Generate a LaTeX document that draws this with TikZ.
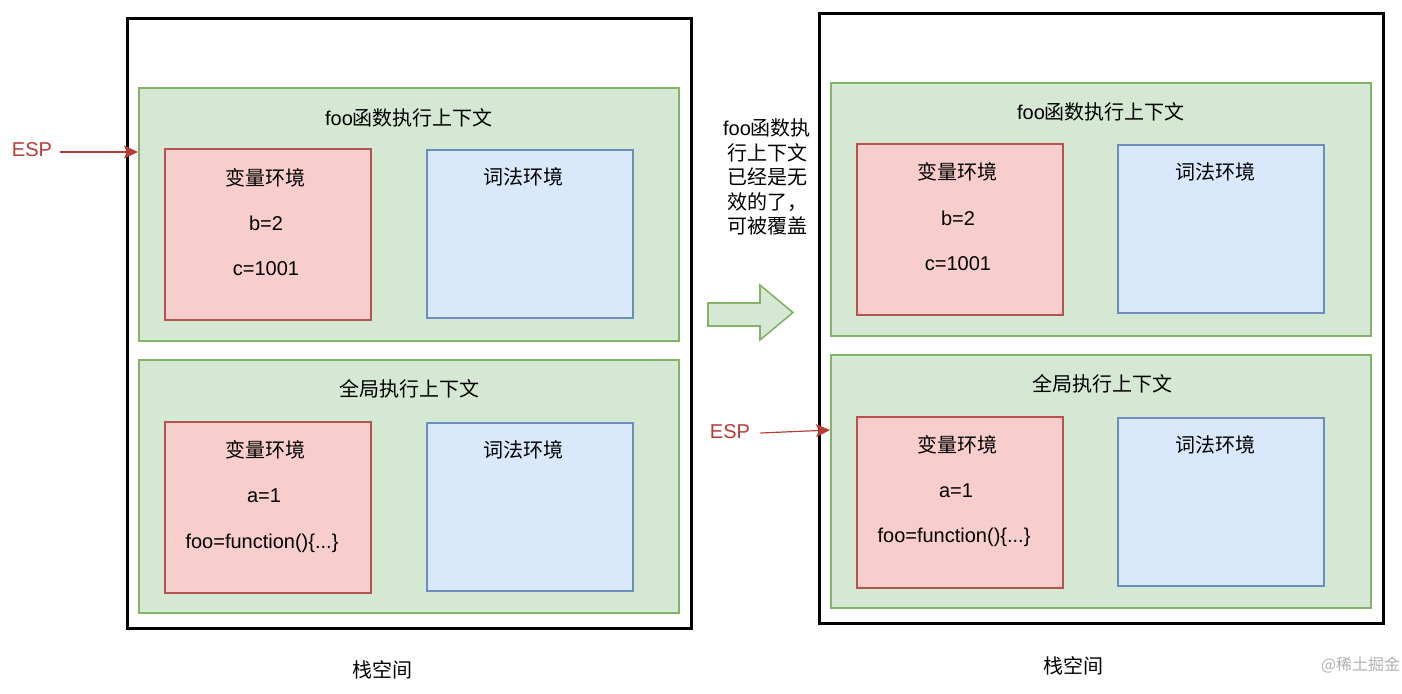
\documentclass[tikz,border=0pt]{standalone}
\usepackage{fontspec}
\setmainfont{Liberation Sans}
\newfontfamily\cjk{Noto Sans CJK SC}
\usetikzlibrary{positioning, arrows.meta, calc}
\definecolor{ctxfill}{HTML}{D5E8D4}
\definecolor{ctxline}{HTML}{82B366}
\definecolor{varfill}{HTML}{F8CECC}
\definecolor{varline}{HTML}{B85450}
\definecolor{lexfill}{HTML}{DAE8FC}
\definecolor{lexline}{HTML}{6C8EBF}
\definecolor{espred}{HTML}{B83B36}
\definecolor{markgray}{HTML}{B0B0B0}
\tikzset{
  stackbox/.style={rectangle, draw=black, line width=1.5pt, minimum width=282pt, minimum height=305pt, inner sep=0pt},
  ctxbox/.style={rectangle, draw=ctxline, fill=ctxfill, line width=1pt, minimum width=270pt, minimum height=126.5pt, inner sep=0pt},
  varbox/.style={rectangle, draw=varline, fill=varfill, line width=1pt, minimum width=103pt, minimum height=85.5pt, inner sep=0pt},
  lexbox/.style={rectangle, draw=lexline, fill=lexfill, line width=1pt, minimum width=103pt, minimum height=84pt, inner sep=0pt},
  esptext/.style={text=espred, inner sep=1pt},
  esparrow/.style={draw=espred, line width=0.6pt, -{Stealth[length=7pt, width=6.5pt, inset=1.5pt]}},
  bigarrow/.style={draw=ctxline, fill=ctxfill, line width=0.8pt, line join=miter}
}

\begin{document}
\begin{tikzpicture}[x=0.5pt, y=-0.5pt, every node/.style={font=\fontsize{10}{12}\selectfont}]
    \useasboundingbox (0,0) rectangle (1402,693);

    % Stack before: foo context on top
    \node (stackL) [stackbox] at (409,323) {};
    \node (fooL) [ctxbox] at (409,214) {};
    \node (globL) [ctxbox] at (409,486) {};
    \node (fooVarL) [varbox] at (268,234.5) {};
    \node (fooLexL) [lexbox] at (530,234) {};
    \node (globVarL) [varbox] at (268,507.5) {};
    \node (globLexL) [lexbox] at (530,506.5) {};

    \node (fooTitleL) at ($(fooL.north)+(0,31)$) {foo{\cjk 函数执行上下文}};
    \node (fooVarTitleL) at ($(fooVarL.north)+(-3,30)$) {\cjk 变量环境};
    \node (bL) at ($(fooVarL.north)+(-2,75)$) {b=2};
    \node (cL) at ($(fooVarL.north)+(-2,121)$) {c=1001};
    \node (fooLexTitleL) at ($(fooLexL.north)+(-7,28)$) {\cjk 词法环境};
    \node (globTitleL) at ($(globL.north)+(0,30)$) {\cjk 全局执行上下文};
    \node (globVarTitleL) at ($(globVarL.north)+(-3,29)$) {\cjk 变量环境};
    \node (aL) at ($(globVarL.north)+(-4,75)$) {a=1};
    \node (fnL) at ($(globVarL.north)+(-6,122)$) {foo=function()\{...\}};
    \node (globLexTitleL) at ($(globLexL.north)+(-7,28)$) {\cjk 词法环境};
    \node (stackTitleL) at ($(stackL.south)+(-27,40)$) {\cjk 栈空间};

    % ESP points to foo context
    \node (espL) [esptext] at (32,150) {ESP};
    \draw [esparrow] (espL.east) ++(6,2) -- (fooL.west |- 0,152);

    % Middle note and arrow
    \node (note) [align=center, font=\fontsize{10}{12.2}\selectfont] at (767,177)
        {foo{\cjk 函数执}\\{\cjk 行上下文}\\{\cjk 已经是无}\\{\cjk 效的了，}\\{\cjk 可被覆盖}};
    \draw [bigarrow] (708,303) -- (760,303) -- (760,285) -- (793,312.5) -- (760,340) -- (760,326) -- (708,326) -- cycle;

    % Stack after: ESP moved down to global context
    \node (stackR) [stackbox] at (1101,318) {};
    \node (fooR) [ctxbox] at (1101,209) {};
    \node (globR) [ctxbox] at (1101,481) {};
    \node (fooVarR) [varbox] at (960,229.5) {};
    \node (fooLexR) [lexbox] at (1221,229) {};
    \node (globVarR) [varbox] at (960,502.5) {};
    \node (globLexR) [lexbox] at (1221,501.5) {};

    \node (fooTitleR) at ($(fooR.north)+(0,30)$) {foo{\cjk 函数执行上下文}};
    \node (fooVarTitleR) at ($(fooVarR.north)+(-3,29)$) {\cjk 变量环境};
    \node (bR) at ($(fooVarR.north)+(-2,75)$) {b=2};
    \node (cR) at ($(fooVarR.north)+(-2,121)$) {c=1001};
    \node (fooLexTitleR) at ($(fooLexR.north)+(-6,28)$) {\cjk 词法环境};
    \node (globTitleR) at ($(globR.north)+(1,30)$) {\cjk 全局执行上下文};
    \node (globVarTitleR) at ($(globVarR.north)+(-3,29)$) {\cjk 变量环境};
    \node (aR) at ($(globVarR.north)+(-4,75)$) {a=1};
    \node (fnR) at ($(globVarR.north)+(-6,121)$) {foo=function()\{...\}};
    \node (globLexTitleR) at ($(globLexR.north)+(-6,28)$) {\cjk 词法环境};
    \node (stackTitleR) at ($(stackR.south)+(-28,41)$) {\cjk 栈空间};

    \node (espR) [esptext] at (730,432) {ESP};
    \draw [esparrow] (espR.east) ++(8,1) -- (globR.west |- 0,430);

    % watermark
    \node (mark) [anchor=west, text=markgray, font=\cjk\fontsize{8}{10}\selectfont] at (1314,665) {@稀土掘金};
\end{tikzpicture}
\end{document}
